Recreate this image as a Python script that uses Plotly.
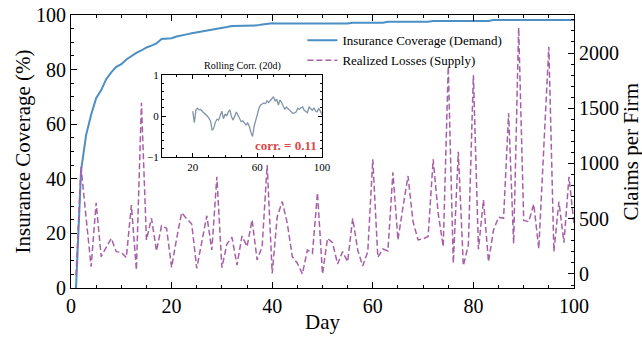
import plotly.graph_objects as go

days = list(range(1, 101))

coverage = [0, 43, 56, 63.5, 69.5, 72.5, 76.5, 79, 81, 82,
            83.7, 85, 86.1, 87, 88.1, 88.8, 89.6, 91.2, 91.4, 91.5,
            92.1, 92.4, 92.9, 93.3, 93.6, 94, 94.3, 94.6, 95, 95.2,
            95.6, 96, 96, 96, 96, 96.1, 96.2, 96.5, 96.8, 97,
            96.9, 96.9, 96.9, 96.9, 96.9, 96.9, 96.9, 96.9, 96.9, 96.9,
            96.9, 96.9, 96.9, 96.9, 96.9, 97.2, 97.2, 97.2, 97.2, 97.2,
            97.2, 97.2, 97.5, 97.5, 97.5, 97.5, 97.5, 97.5, 97.5, 97.5,
            97.5, 97.8, 97.8, 97.8, 97.8, 97.8, 97.8, 97.8, 97.8, 97.8,
            97.8, 97.8, 97.8, 98.2, 98.2, 98.2, 98.2, 98.2, 98.2, 98.2,
            98.2, 98.2, 98.2, 98.2, 98.2, 98.2, 98.2, 98.2, 98.2, 98.2]

losses = [-15, 970, 510, 66, 645, 157, 240, 323, 202, 195,
          148, 624, 36, 1550, 308, 504, 208, 437, 413, 60,
          320, 555, 500, 452, 51, 290, 527, 217, 880, 57,
          271, 332, 81, 344, 247, 489, 127, 247, 986, 5,
          519, 655, 458, 157, 97, 0, 217, 187, 736, 0,
          323, 283, 90, 202, 111, 504, 217, 72, 202, 1038,
          151, 226, 208, 920, 308, 605, 887, 473, 308, 318,
          340, 1038, 549, 247, 1876, 97, 1107, 75, 262, 1801,
          223, 670, 111, 398, 513, 504, 1454, 275, 2230, 485,
          473, 632, 228, 1150, 2057, 202, 654, 283, 880, 450]

corr_days = list(range(20, 101))
corr_vals = [0.12, -0.16, 0.15, 0.19, 0.15, 0.16, 0.11, 0.08, 0.04, 0.0,
             -0.05, -0.12, -0.35, -0.3, -0.15, -0.08, -0.1, 0.02, 0.12, -0.07,
             0.05, 0.0, 0.1, 0.15, -0.02, -0.1, 0.0, 0.1, 0.02, -0.06,
             -0.14, -0.12, -0.18, -0.22, -0.17, -0.25, -0.4, -0.5, -0.25, -0.1,
             0.05, 0.19, 0.27, 0.3, 0.32, 0.3, 0.37, 0.33, 0.38, 0.43,
             0.47, 0.36, 0.41, 0.27, 0.39, 0.33, 0.22, 0.16, 0.22, 0.18,
             0.16, 0.12, 0.06, 0.08, 0.1, 0.19, 0.16, 0.2, 0.22, 0.14,
             0.1, 0.08, 0.22, 0.19, 0.14, 0.2, 0.12, 0.1, 0.19, 0.12,
             0.04]
corr_total = 0.11

FONT = "Liberation Serif"
BLUE = "#4b8fc5"
PURPLE = "#a660a8"
GRAY = "#8295a8"
RED = "#d94a4a"

fig = go.Figure()
fig.add_trace(go.Scatter(x=days, y=coverage, mode="lines", name="Insurance Coverage (Demand)",
                         line=dict(color=BLUE, width=2), xaxis="x", yaxis="y"))
fig.add_trace(go.Scatter(x=days, y=losses, mode="lines", name="Realized Losses (Supply)",
                         line=dict(color=PURPLE, width=1.5, dash="6px,3px"), xaxis="x", yaxis="y2"))
fig.add_trace(go.Scatter(x=corr_days, y=corr_vals, mode="lines", showlegend=False,
                         line=dict(color=GRAY, width=1.3), xaxis="x3", yaxis="y3"))

axis_common = dict(showline=True, linecolor="black", linewidth=1.2, ticks="inside",
                   tickcolor="black", ticklen=6, tickwidth=1, showgrid=False, zeroline=False,
                   automargin=False,
                   tickfont=dict(family=FONT, size=20, color="black"))

label_font = dict(family=FONT, size=21, color="black")

fig.update_layout(
    width=642, height=337,
    margin=dict(l=71, r=68, t=15, b=49, autoexpand=False),
    paper_bgcolor="white", plot_bgcolor="white",
    font=dict(family=FONT, color="black"),
    xaxis=dict(domain=[0, 1], range=[0, 100], dtick=20, mirror="ticks", anchor="y",
               minor=dict(ticks="inside", ticklen=3, dtick=5, tickcolor="black"),
               **axis_common),
    yaxis=dict(range=[0, 100], dtick=20,
               minor=dict(ticks="inside", ticklen=3, dtick=5, tickcolor="black"),
               **axis_common),
    yaxis2=dict(range=[-127, 2344], dtick=500, overlaying="y", side="right", anchor="x",
                minor=dict(ticks="inside", ticklen=3, dtick=100, tickcolor="black"),
                **axis_common),
    xaxis3=dict(domain=[0.181, 0.499], range=[1, 100], anchor="y3", tick0=20, dtick=40,
                showline=True, mirror="ticks", linecolor="black", linewidth=1, ticks="inside",
                ticklen=4, tickcolor="black", showgrid=False, zeroline=False, automargin=False,
                minor=dict(ticks="inside", ticklen=2, dtick=10, tickcolor="black"),
                tickfont=dict(family=FONT, size=11, color="black")),
    yaxis3=dict(domain=[0.48, 0.78], range=[-1, 1], anchor="x3", dtick=1,
                showline=True, mirror="ticks", linecolor="black", linewidth=1, ticks="inside",
                ticklen=4, tickcolor="black", showgrid=False, zeroline=False, automargin=False,
                minor=dict(ticks="inside", ticklen=2, dtick=0.2, tickcolor="black"),
                tickfont=dict(family=FONT, size=11, color="black")),
    legend=dict(x=0.46, y=0.962, xanchor="left", yanchor="top", bgcolor="rgba(0,0,0,0)",
                font=dict(family=FONT, size=13, color="black"), borderwidth=0,
                tracegroupgap=0),
    shapes=[dict(type="line", xref="x3 domain", yref="y3", x0=0, x1=1, y0=0, y1=0,
                 line=dict(color="#aaaaaa", width=1, dash="dot"), layer="below")],
    annotations=[
        dict(text="Day", xref="paper", yref="paper", x=0.5, y=-0.1245,
             xanchor="center", yanchor="middle", showarrow=False, font=label_font),
        dict(text="Insurance Coverage (%)", xref="paper", yref="paper", x=-0.0974, y=0.5,
             xanchor="center", yanchor="middle", textangle=-90, showarrow=False, font=label_font),
        dict(text="Claims per Firm", xref="paper", yref="paper", x=1.1133, y=0.5,
             xanchor="center", yanchor="middle", textangle=-90, showarrow=False, font=label_font),
        dict(text="Rolling Corr. (20d)", xref="x3 domain", yref="y3 domain", x=0.5, y=1,
             xanchor="center", yanchor="bottom", yshift=1, showarrow=False,
             font=dict(family=FONT, size=10, color="black")),
        dict(text="<b>corr. = %.2f</b>" % corr_total, xref="x3 domain", yref="y3 domain",
             x=0.98, y=0.03, xanchor="right", yanchor="bottom", showarrow=False,
             font=dict(family=FONT, size=13, color=RED)),
    ],
)

fig.write_html("out.html")
